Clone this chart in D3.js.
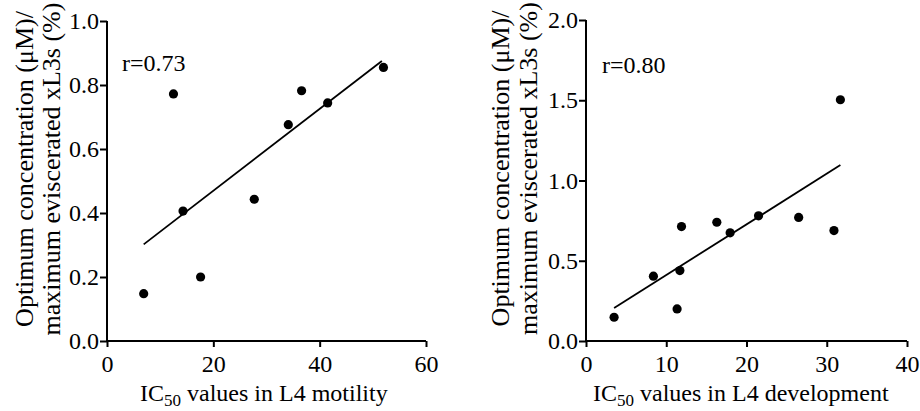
<!DOCTYPE html>
<html lang="en">
<head>
<meta charset="UTF-8">
<script src="https://d3js.org/d3.v7.min.js"></script>
<style>
  body { margin: 0; background: #fff; }
  text { font-family: "Liberation Serif", "Times New Roman", serif; fill: #000; }
</style>
</head>
<body>
<script>
// left panel: IC50 in L4 motility vs optimum conc / max eviscerated xL3s
var motilityX = [6.9, 12.5, 14.3, 17.6, 27.7, 34.1, 36.6, 41.5, 52.0];
var motilityY = [0.148, 0.772, 0.406, 0.200, 0.443, 0.676, 0.782, 0.744, 0.855];
var motilityFit = [[6.9, 0.302], [51.7, 0.875]];

// right panel: IC50 in L4 development
var developX = [3.5, 8.4, 11.35, 11.7, 11.9, 16.3, 17.96, 21.5, 26.5, 30.9, 31.7];
var developY = [0.148, 0.404, 0.200, 0.439, 0.713, 0.740, 0.674, 0.780, 0.770, 0.688, 1.503];
var developFit = [[3.5, 0.206], [31.7, 1.096]];

var leftXTicks = [0, 20, 40, 60];
var leftYTicks = [0, 0.2, 0.4, 0.6, 0.8, 1.0];
var rightXTicks = [0, 10, 20, 30, 40];
var rightYTicks = [0, 0.5, 1.0, 1.5, 2.0];

var yTitle1 = "Optimum concentration (\u03bcM)/";
var yTitle2 = "maximum eviscerated xL3s (%)";

var svg = d3.select("body").append("svg")
    .attr("width", 920)
    .attr("height", 411);

function panel(opt) {
    var x = d3.scaleLinear().domain(opt.xDomain).range(opt.xRange);
    var y = d3.scaleLinear().domain(opt.yDomain).range(opt.yRange);
    var g = svg.append("g");

    var xAxis = g.append("g")
        .attr("transform", "translate(0," + opt.yRange[0] + ")")
        .call(d3.axisBottom(x).tickValues(opt.xTicks).tickSize(6).tickPadding(8).tickFormat(d3.format("d")));
    var yAxis = g.append("g")
        .attr("transform", "translate(" + opt.xRange[0] + ",0)")
        .call(d3.axisLeft(y).tickValues(opt.yTicks).tickSize(7).tickPadding(1).tickFormat(d3.format(".1f")));

    [xAxis, yAxis].forEach(function(a) {
        a.selectAll("path, line").attr("stroke", "#000").attr("stroke-width", 2);
        a.select("path").attr("d", a === xAxis
            ? "M" + opt.xRange[0] + ",0H" + opt.xRange[1] + "V6"
            : "M0," + opt.yRange[0] + "V" + opt.yRange[1] + "H-7");
        a.selectAll("text").attr("font-size", 24).attr("font-family", "Liberation Serif");
    });
    xAxis.select("path").attr("d", "M" + opt.xRange[0] + ",0H" + opt.xRange[1]);
    yAxis.select("path").attr("d", "M0," + opt.yRange[0] + "V" + opt.yRange[1]);

    // fit line
    g.append("line")
        .attr("x1", x(opt.fit[0][0])).attr("y1", y(opt.fit[0][1]))
        .attr("x2", x(opt.fit[1][0])).attr("y2", y(opt.fit[1][1]))
        .attr("stroke", "#000").attr("stroke-width", 1.8);

    g.selectAll(".dot").data(d3.range(opt.xs.length)).enter().append("circle")
        .attr("class", "dot")
        .attr("cx", i => x(opt.xs[i]))
        .attr("cy", i => y(opt.ys[i]))
        .attr("r", 4.6)
        .attr("fill", "#000");

    g.append("text")
        .attr("x", opt.rPos[0]).attr("y", opt.rPos[1])
        .attr("font-size", 24)
        .text(opt.rText);

    var xt = g.append("text")
        .attr("x", (opt.xTitleX)).attr("y", 401)
        .attr("font-size", 24);
    xt.append("tspan").text("IC");
    xt.append("tspan").attr("font-size", 17).attr("dy", 5).text("50");
    xt.append("tspan").attr("dy", -5).text(" " + opt.xTitle);

    var cy = (opt.yRange[0] + opt.yRange[1]) / 2 - 12;
    g.append("text")
        .attr("transform", "translate(" + opt.yTitleX[0] + "," + cy + ") rotate(-90)")
        .attr("text-anchor", "middle")
        .attr("font-size", 26)
        .text(yTitle1);
    g.append("text")
        .attr("transform", "translate(" + opt.yTitleX[1] + "," + cy + ") rotate(-90)")
        .attr("text-anchor", "middle")
        .attr("font-size", 26)
        .text(yTitle2);
}

panel({
    xs: motilityX, ys: motilityY, fit: motilityFit,
    xDomain: [0, 60], xRange: [107, 426],
    yDomain: [0, 1], yRange: [341, 21],
    xTicks: leftXTicks, yTicks: leftYTicks,
    rText: "r=0.73", rPos: [122, 71],
    xTitle: "values in L4 motility", xTitleX: 140,
    yTitleX: [33, 60]
});

panel({
    xs: developX, ys: developY, fit: developFit,
    xDomain: [0, 40], xRange: [586, 907],
    yDomain: [0, 2], yRange: [341, 20],
    xTicks: rightXTicks, yTicks: rightYTicks,
    rText: "r=0.80", rPos: [602, 73],
    xTitle: "values in L4 development", xTitleX: 593,
    yTitleX: [509, 537]
});
</script>
</body>
</html>
